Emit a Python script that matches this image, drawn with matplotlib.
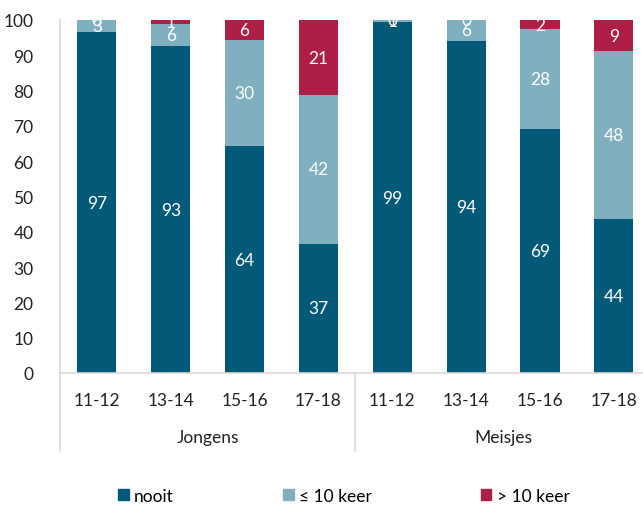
import matplotlib.pyplot as plt
import numpy as np
from matplotlib.patches import Patch
from matplotlib.lines import Line2D

plt.rcParams['font.family'] = ['Lato', 'DejaVu Sans']

ages = ["11-12", "13-14", "15-16", "17-18", "11-12", "13-14", "15-16", "17-18"]
groups = ["Jongens", "Meisjes"]
# segment heights (labels are the rounded values)
nooit = [96.6, 92.6, 64.2, 36.6, 99.4, 94.1, 69.2, 43.6]
tot10 = [3.4, 6.3, 30.2, 42.1, 0.6, 5.9, 28.3, 47.6]
meer10 = [0.0, 1.1, 5.6, 21.3, 0.0, 0.0, 2.4, 8.8]

colors = ["#035a78", "#80b0c0", "#ae1f45"]
names = ["nooit", "\u2264 10 keer", "> 10 keer"]
FS = 12.5

fig = plt.figure(figsize=(6.43, 5.06), dpi=100)
ax = fig.add_axes([60 / 643, 132 / 506, 583 / 643, 353 / 506])

x = np.arange(len(ages))
w = 0.53
bottom = np.zeros(len(ages))
for vals, col in zip([nooit, tot10, meer10], colors):
    vals = np.array(vals)
    ax.bar(x, vals, w, bottom=bottom, color=col, zorder=2)
    for xi, b, v in zip(x, bottom, vals):
        ax.text(xi, b + v / 2, str(int(v + 0.5)), ha="center", va="center",
                color="white", fontsize=FS)
    bottom += vals

ax.set_xlim(-0.5, (643 - 96.5) / 73.9)
ax.set_ylim(0, 100)
ax.set_yticks(range(0, 101, 10))
ax.tick_params(axis="y", length=0, labelsize=FS, pad=19, colors="#222222")
ax.set_xticks([])
for s in ["top", "right"]:
    ax.spines[s].set_visible(False)
for s in ["left", "bottom"]:
    ax.spines[s].set_color("#d9d9d9")
    ax.spines[s].set_linewidth(1.2)

trans = ax.get_xaxis_transform()
for xi, lab in zip(x, ages):
    ax.text(xi, -27 / 353, lab, transform=trans, ha="center", va="center",
            fontsize=FS, color="#222222")
for gi, g in enumerate(groups):
    ax.text(gi * 4 + 1.5, -64 / 353, g, transform=trans, ha="center",
            va="center", fontsize=FS, color="#222222")
for xs in [-0.5, 3.5]:
    ax.add_line(Line2D([xs, xs], [0, -78 / 353], transform=trans,
                       color="#d9d9d9", lw=1.2, clip_on=False))

handles = [Patch(color=c) for c in colors]
fig.legend(handles, names, loc="center", bbox_to_anchor=(0.535, 9 / 506),
           ncol=3, frameon=False, fontsize=FS, handlelength=0.6,
           handleheight=0.6, handletextpad=0.3, columnspacing=6.3)

fig.savefig("out.png", dpi=100)
